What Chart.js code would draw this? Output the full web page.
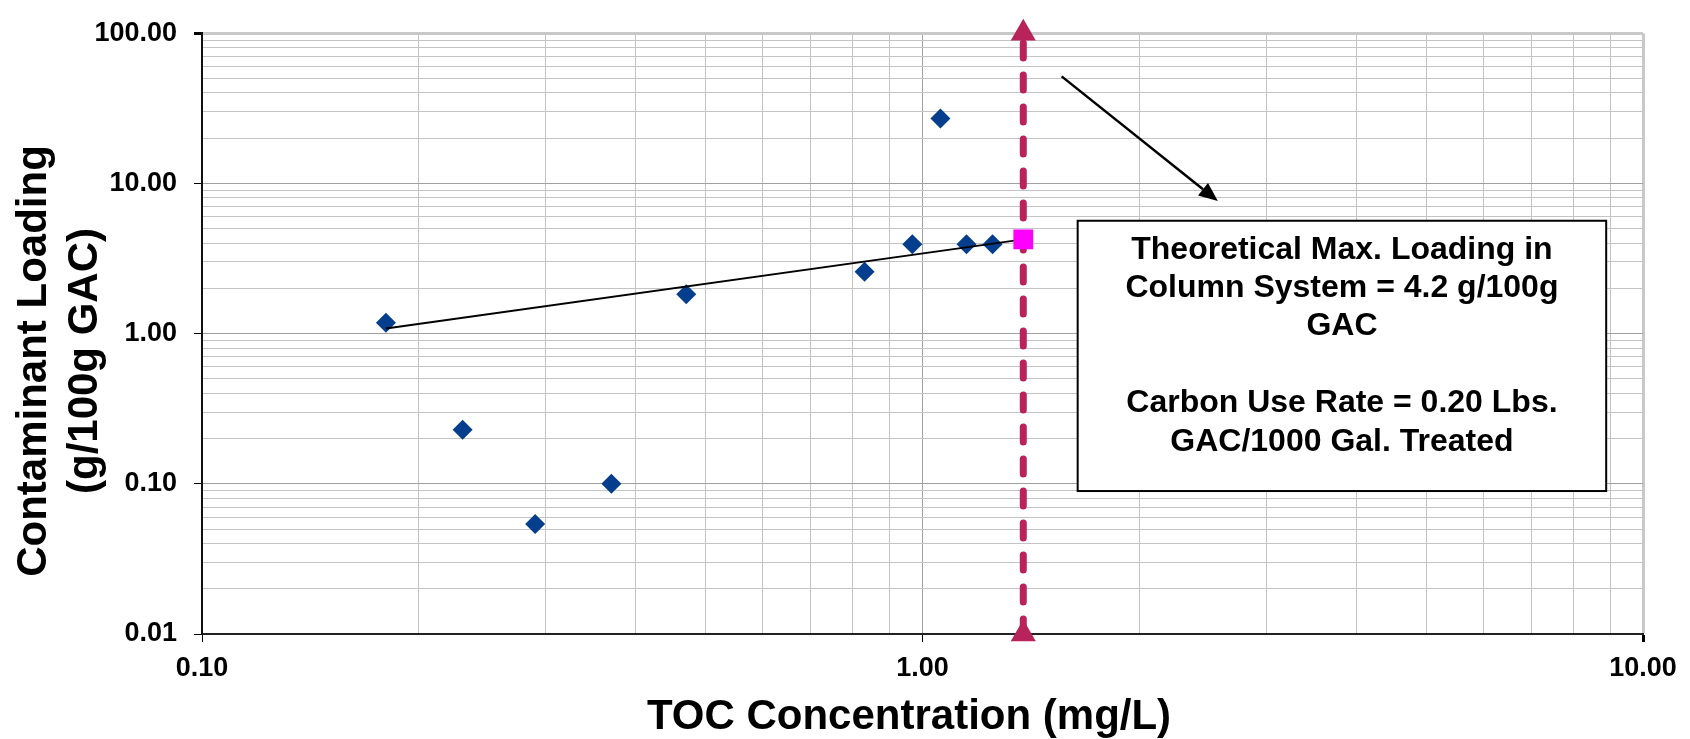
<!DOCTYPE html>
<html>
<head>
<meta charset="utf-8">
<title>Contaminant Loading vs TOC</title>
<script src="https://cdn.jsdelivr.net/npm/chart.js@4.4.1/dist/chart.umd.min.js"></script>
<style>
  body { margin: 0; background: #fff; }
  #wrap { width: 1690px; height: 739px; position: relative; }
</style>
</head>
<body>
<div id="wrap"><canvas id="loadingChart"></canvas></div>
<script>
  // isotherm points
  const tocConc = [0.180, 0.230, 0.290, 0.370, 0.470, 0.831, 0.968, 1.059, 1.151, 1.251];
  const loading = [1.18, 0.229, 0.054, 0.100, 1.83, 2.58, 3.93, 27.0, 3.93, 3.93];

  // fitted line up to the max loading point
  const trendX = [0.18, 1.38];
  const trendY = [1.08, 4.24];

  // theoretical max loading in column system
  const maxX = [1.38];
  const maxY = [4.24];

  // influent TOC marker, drawn full height
  const limitX = [1.38, 1.38];
  const limitY = [0.01, 100];

  // axis labels (decades)
  const xMajor = [0.1, 1, 10];
  const yMajor = [0.01, 0.1, 1, 10, 100];

  const noteLines = [
    'Theoretical Max. Loading in',
    'Column System = 4.2 g/100g',
    'GAC',
    '',
    'Carbon Use Rate = 0.20 Lbs.',
    'GAC/1000 Gal. Treated'
  ];
  const xTitle = 'TOC Concentration (mg/L)';
  const yTitle = ['Contaminant Loading', '(g/100g GAC)'];

  const FONT = '"Liberation Sans", Arial, sans-serif';
  const BLUE = '#063e8e';
  const CRIMSON = 'rgb(183, 35, 90)';

  function toPoints(xs, ys) {
    return xs.map(function (v, i) { return { x: v, y: ys[i] }; });
  }

  // every 1..9 multiple between the decades, for the log grid
  function logTicks(majors) {
    const out = [];
    for (let i = 0; i < majors.length - 1; i++) {
      for (let m = 1; m < 10; m++) {
        out.push({ value: Number((majors[i] * m).toPrecision(4)) });
      }
    }
    out.push({ value: majors[majors.length - 1] });
    return out;
  }

  function isMajor(v) {
    const l = Math.log10(v);
    return Math.abs(l - Math.round(l)) < 1e-6;
  }

  function gridColor(max) {
    return function (c) {
      if (!c.tick) return '#c0c0c0';
      if (c.tick.value === max) return '#c8c8c8';
      return isMajor(c.tick.value) ? '#a0a0a0' : '#c4c4c4';
    };
  }
  function gridWidth(max) {
    return function (c) {
      return c.tick && c.tick.value === max ? 3 : 1;
    };
  }

  const notePlugin = {
    id: 'notes',
    afterDatasetsDraw(chart) {
      const ctx = chart.ctx;
      const xs = chart.scales.x, ys = chart.scales.y;

      // arrow pointing at the text box
      const x1 = xs.getPixelForValue(1.56), y1 = ys.getPixelForValue(51.6);
      const x2 = xs.getPixelForValue(2.57), y2 = ys.getPixelForValue(7.63);
      const ang = Math.atan2(y2 - y1, x2 - x1);
      const head = 19, half = 8;
      ctx.save();
      ctx.strokeStyle = '#000';
      ctx.fillStyle = '#000';
      ctx.lineWidth = 2.5;
      ctx.beginPath();
      ctx.moveTo(x1, y1);
      ctx.lineTo(x2 - Math.cos(ang) * head, y2 - Math.sin(ang) * head);
      ctx.stroke();
      ctx.beginPath();
      ctx.moveTo(x2, y2);
      ctx.lineTo(x2 - Math.cos(ang) * head - Math.sin(ang) * half, y2 - Math.sin(ang) * head + Math.cos(ang) * half);
      ctx.lineTo(x2 - Math.cos(ang) * head + Math.sin(ang) * half, y2 - Math.sin(ang) * head - Math.cos(ang) * half);
      ctx.closePath();
      ctx.fill();

      // text box
      const bx1 = xs.getPixelForValue(1.642), by1 = ys.getPixelForValue(5.64);
      const bx2 = xs.getPixelForValue(8.89), by2 = ys.getPixelForValue(0.0895);
      ctx.fillStyle = '#fff';
      ctx.fillRect(bx1, by1, bx2 - bx1, by2 - by1);
      ctx.lineWidth = 2;
      ctx.strokeRect(bx1, by1, bx2 - bx1, by2 - by1);
      ctx.fillStyle = '#000';
      ctx.font = 'bold 32px ' + FONT;
      ctx.textAlign = 'center';
      ctx.textBaseline = 'middle';
      const cx = (bx1 + bx2) / 2;
      noteLines.forEach(function (t, i) {
        if (t) ctx.fillText(t, cx, by1 + 29 + i * 38.4);
      });
      ctx.restore();
    },
    afterDraw(chart) {
      const ctx = chart.ctx;
      ctx.save();
      ctx.fillStyle = '#000';
      ctx.font = 'bold 42px ' + FONT;
      ctx.textAlign = 'center';
      ctx.textBaseline = 'alphabetic';
      ctx.fillText(xTitle, 909, 729);

      ctx.translate(34, 361);
      ctx.rotate(-Math.PI / 2);
      ctx.textBaseline = 'middle';
      yTitle.forEach(function (t, i) {
        ctx.fillText(t, 0, i * 51);
      });
      ctx.restore();
    }
  };

  const ctx = document.getElementById('loadingChart').getContext('2d');
  const loadingChart = new Chart(ctx, {
    type: 'scatter',
    data: {
      datasets: [
        {
          label: 'Theoretical Max',
          data: toPoints(maxX, maxY),
          pointStyle: 'rect',
          pointRadius: 14,
          pointBorderWidth: 0,
          backgroundColor: '#ff00ff',
          borderColor: '#ff00ff',
          clip: false
        },
        {
          label: 'Trend',
          data: toPoints(trendX, trendY),
          showLine: true,
          borderColor: '#000',
          borderWidth: 2,
          pointRadius: 0
        },
        {
          label: 'Loading',
          data: toPoints(tocConc, loading),
          pointStyle: 'rectRot',
          pointRadius: 10,
          pointBorderWidth: 0,
          backgroundColor: BLUE,
          borderColor: BLUE
        },
        {
          label: 'Influent TOC',
          data: toPoints(limitX, limitY),
          showLine: true,
          borderColor: CRIMSON,
          borderWidth: 7,
          borderDash: [15, 17],
          borderCapStyle: 'round',
          pointStyle: 'triangle',
          pointRadius: 14.5,
          pointBorderWidth: 0,
          backgroundColor: CRIMSON,
          clip: false
        }
      ]
    },
    options: {
      responsive: true,
      maintainAspectRatio: false,
      animation: false,
      layout: { padding: { left: 0, right: 47, top: 22, bottom: 0 } },
      plugins: {
        legend: { display: false },
        tooltip: { enabled: false }
      },
      scales: {
        x: {
          type: 'logarithmic',
          min: 0.1,
          max: 10,
          afterBuildTicks: function (s) { s.ticks = logTicks(xMajor); },
          afterFit: function (s) { s.height = 105; },
          border: { color: '#222', width: 2 },
          grid: {
            color: gridColor(10),
            lineWidth: gridWidth(10),
            tickLength: 8,
            tickColor: function (c) { return c.tick && isMajor(c.tick.value) ? '#000' : 'rgba(0,0,0,0)'; }
          },
          ticks: {
            autoSkip: false,
            maxRotation: 0,
            padding: 10,
            color: '#000',
            font: { family: FONT, size: 27, weight: 'bold' },
            callback: function (v) { return isMajor(v) ? Number(v).toFixed(2) : ''; }
          }
        },
        y: {
          type: 'logarithmic',
          min: 0.01,
          max: 100,
          afterBuildTicks: function (s) { s.ticks = logTicks(yMajor); },
          afterFit: function (s) { s.width = 202; },
          border: { color: '#111', width: 2 },
          grid: {
            color: gridColor(100),
            lineWidth: gridWidth(100),
            tickLength: 8,
            tickColor: function (c) { return c.tick && isMajor(c.tick.value) ? '#000' : 'rgba(0,0,0,0)'; }
          },
          ticks: {
            autoSkip: false,
            padding: 17,
            color: '#000',
            font: { family: FONT, size: 27, weight: 'bold' },
            callback: function (v) { return isMajor(v) ? Number(v).toFixed(2) : ''; }
          }
        }
      }
    },
    plugins: [notePlugin]
  });
</script>
</body>
</html>
